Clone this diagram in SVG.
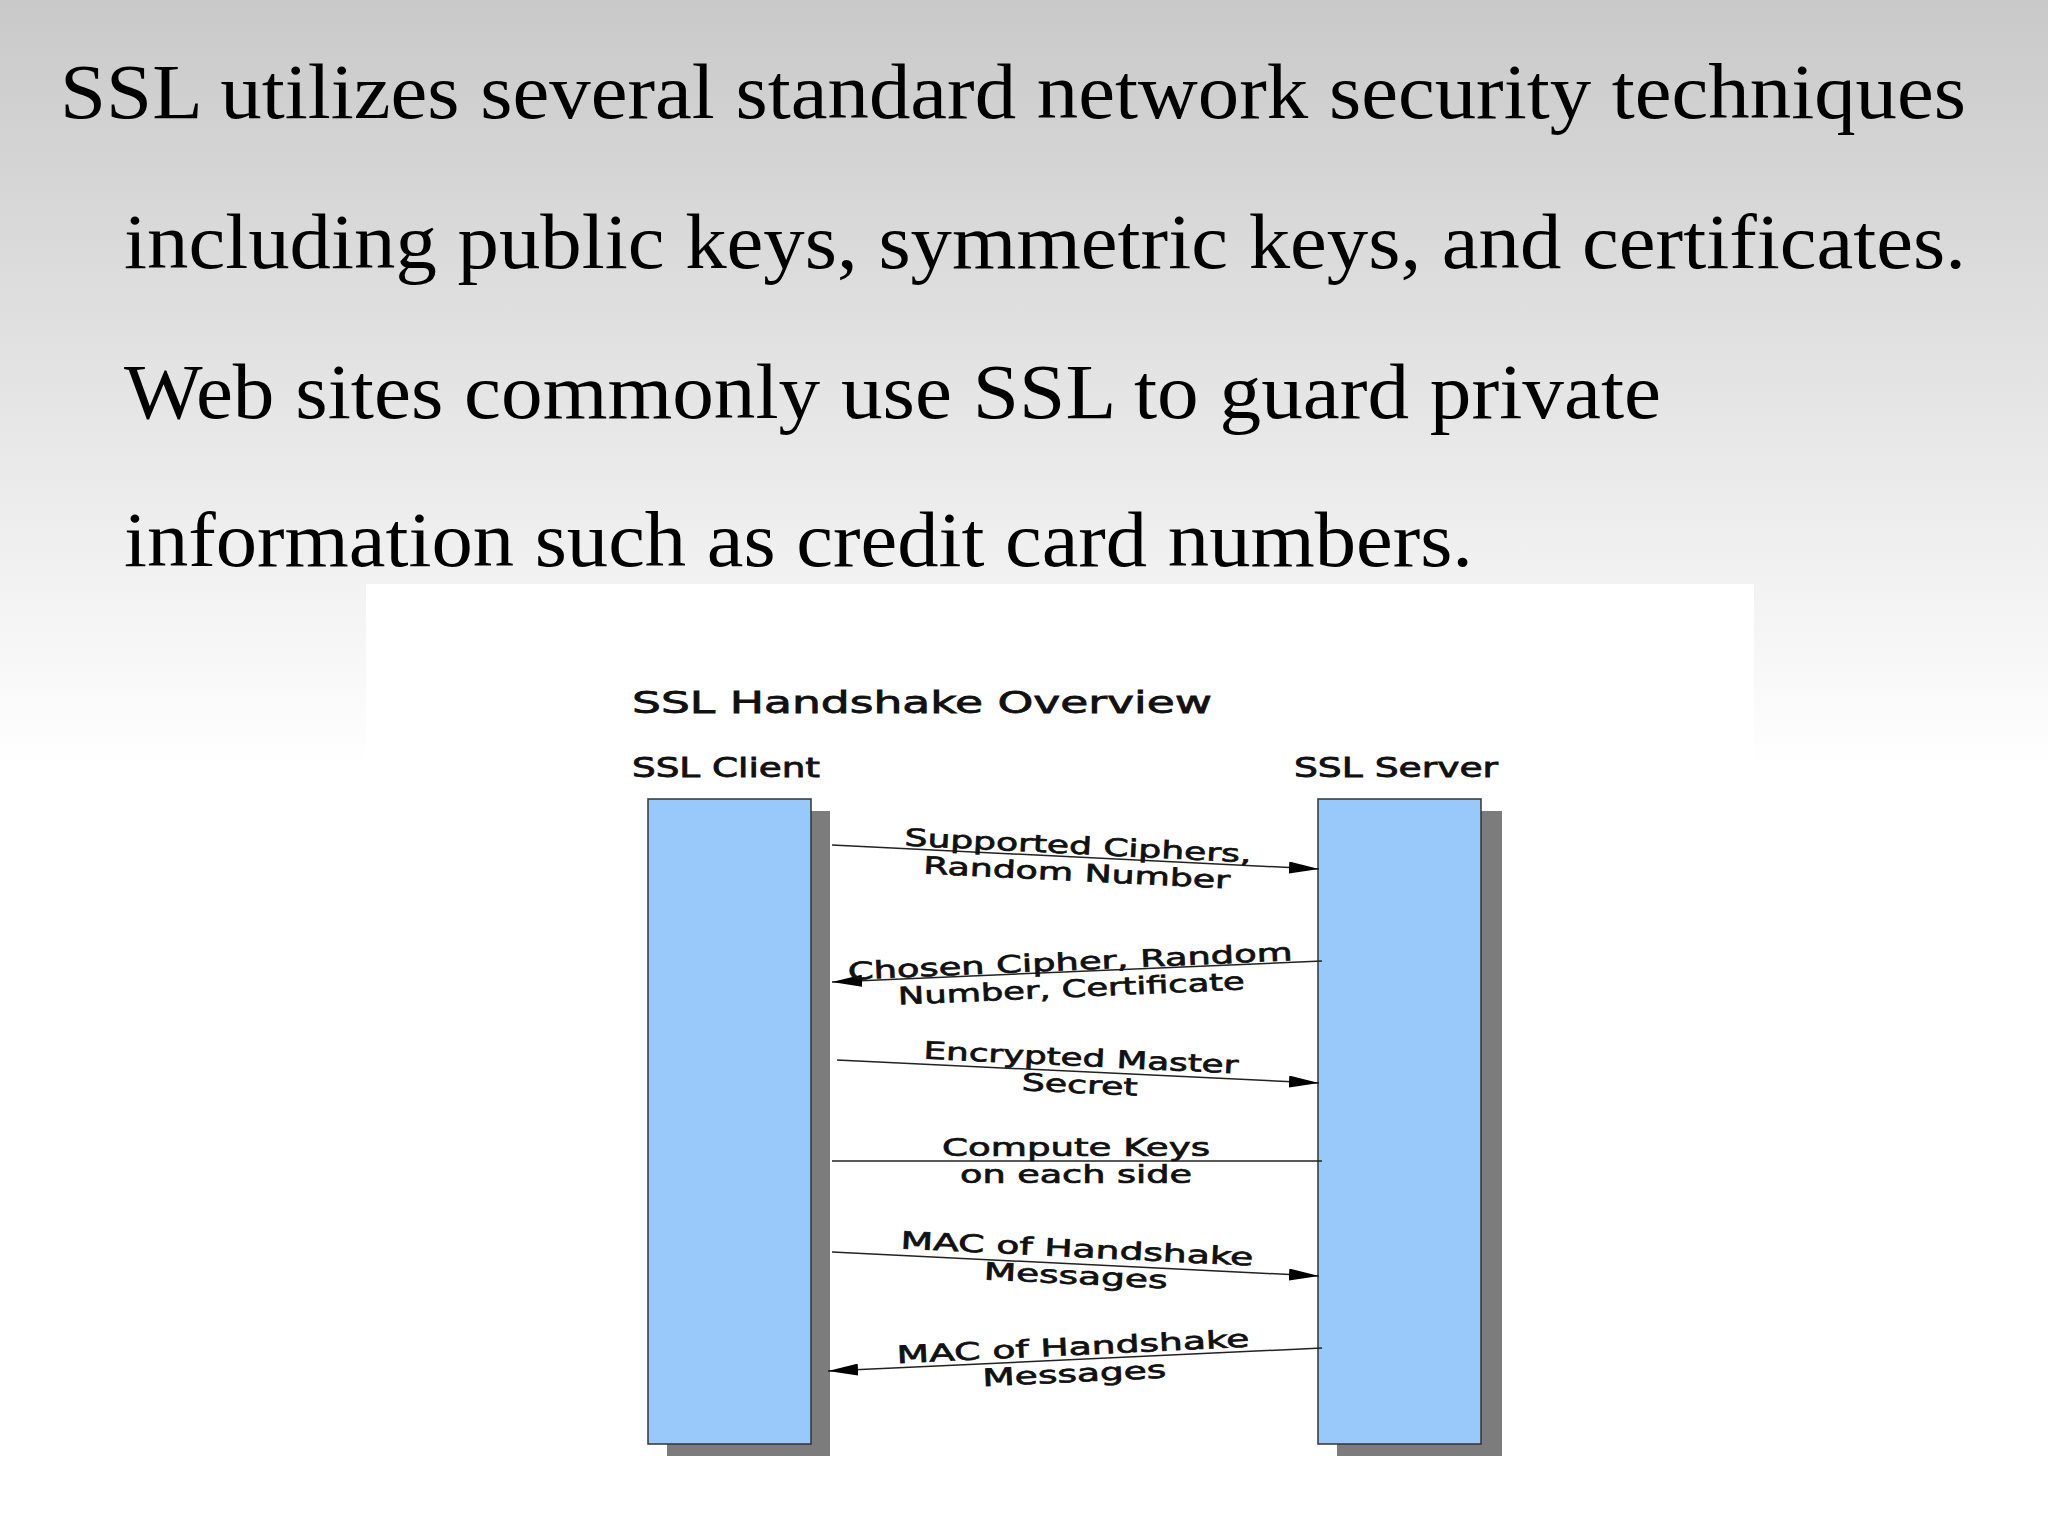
<svg xmlns="http://www.w3.org/2000/svg" width="2048" height="1535" viewBox="0 0 2048 1535">
<defs>
<linearGradient id="bg" x1="0" y1="0" x2="0" y2="1">
<stop offset="0" stop-color="#c9c9c9"/><stop offset="0.5" stop-color="#ffffff"/><stop offset="1" stop-color="#ffffff"/>
</linearGradient>
<marker id="ah" viewBox="0 0 10 10" preserveAspectRatio="none" refX="10" refY="5" markerWidth="30" markerHeight="12" markerUnits="userSpaceOnUse" orient="auto"><path d="M0,0 L10,5 L0,10 z" fill="#000"/></marker>
<style>
.h{font-family:"Liberation Serif",serif;font-size:78px;fill:#000}
.t{font-family:"DejaVu Sans",sans-serif;fill:#111;stroke:#111;stroke-width:0.8}
.l{font-family:"DejaVu Sans",sans-serif;font-size:24px;fill:#111;stroke:#111;stroke-width:0.7;text-anchor:middle}
.c{stroke:#222;stroke-width:1.5;fill:none}
.bar{fill:#99c9fb;stroke:#333;stroke-width:1.5}
.sh{fill:#7c7c7c}
</style>
</defs>
<rect width="2048" height="1535" fill="url(#bg)"/>
<g id="heading">
<text class="h" x="60" y="118" textLength="1906" lengthAdjust="spacingAndGlyphs">SSL utilizes several standard network security techniques</text>
<text class="h" x="124" y="268" textLength="1842" lengthAdjust="spacingAndGlyphs">including public keys, symmetric keys, and certificates.</text>
<text class="h" x="124" y="418" textLength="1537" lengthAdjust="spacingAndGlyphs">Web sites commonly use SSL to guard private</text>
<text class="h" x="124" y="566" textLength="1349" lengthAdjust="spacingAndGlyphs">information such as credit card numbers.</text>
</g>
<rect x="366" y="584" width="1388" height="951" fill="#fff"/>
<g id="title"><text class="t" x="632" y="713" font-size="31" textLength="580" lengthAdjust="spacingAndGlyphs">SSL Handshake Overview</text></g>
<g id="client">
<rect class="sh" x="667" y="811" width="163" height="645"/>
<rect class="bar" x="648" y="799" width="163" height="645"/>
<text class="t" x="632" y="777" font-size="26" textLength="188" lengthAdjust="spacingAndGlyphs">SSL Client</text>
</g>
<g id="server">
<rect class="sh" x="1337" y="811" width="165" height="645"/>
<rect class="bar" x="1318" y="799" width="163" height="645"/>
<text class="t" x="1294" y="777" font-size="26" textLength="204" lengthAdjust="spacingAndGlyphs">SSL Server</text>
</g>
<g id="connectors">
<line class="c" x1="832" y1="845" x2="1319" y2="869" marker-end="url(#ah)"/>
<line class="c" x1="1322" y1="961" x2="832" y2="982" marker-end="url(#ah)"/>
<line class="c" x1="837" y1="1060" x2="1319" y2="1083" marker-end="url(#ah)"/>
<line class="c" x1="832" y1="1161" x2="1322" y2="1161"/>
<line class="c" x1="832" y1="1252" x2="1319" y2="1276" marker-end="url(#ah)"/>
<line class="c" x1="1322" y1="1348" x2="828" y2="1371" marker-end="url(#ah)"/>
</g>
<g id="labels">
<g transform="rotate(2.8 1077 866)"><text class="l" x="1077" y="854" textLength="347" lengthAdjust="spacingAndGlyphs">Supported Ciphers,</text><text class="l" x="1077" y="881" textLength="307" lengthAdjust="spacingAndGlyphs">Random Number</text></g>
<g transform="rotate(-2.5 1071 982)"><text class="l" x="1071" y="970" textLength="445" lengthAdjust="spacingAndGlyphs">Chosen Cipher, Random</text><text class="l" x="1071" y="997" textLength="347" lengthAdjust="spacingAndGlyphs">Number, Certificate</text></g>
<g transform="rotate(2.7 1080 1079)"><text class="l" x="1080" y="1066" textLength="315" lengthAdjust="spacingAndGlyphs">Encrypted Master</text><text class="l" x="1080" y="1093" textLength="116" lengthAdjust="spacingAndGlyphs">Secret</text></g>
<g><text class="l" x="1076" y="1156" textLength="268" lengthAdjust="spacingAndGlyphs">Compute Keys</text><text class="l" x="1076" y="1183" textLength="232" lengthAdjust="spacingAndGlyphs">on each side</text></g>
<g transform="rotate(2.8 1076 1270)"><text class="l" x="1076" y="1257" textLength="353" lengthAdjust="spacingAndGlyphs">MAC of Handshake</text><text class="l" x="1076" y="1284" textLength="184" lengthAdjust="spacingAndGlyphs">Messages</text></g>
<g transform="rotate(-2.7 1074 1368)"><text class="l" x="1074" y="1355" textLength="353" lengthAdjust="spacingAndGlyphs">MAC of Handshake</text><text class="l" x="1074" y="1382" textLength="184" lengthAdjust="spacingAndGlyphs">Messages</text></g>
</g>
</svg>
